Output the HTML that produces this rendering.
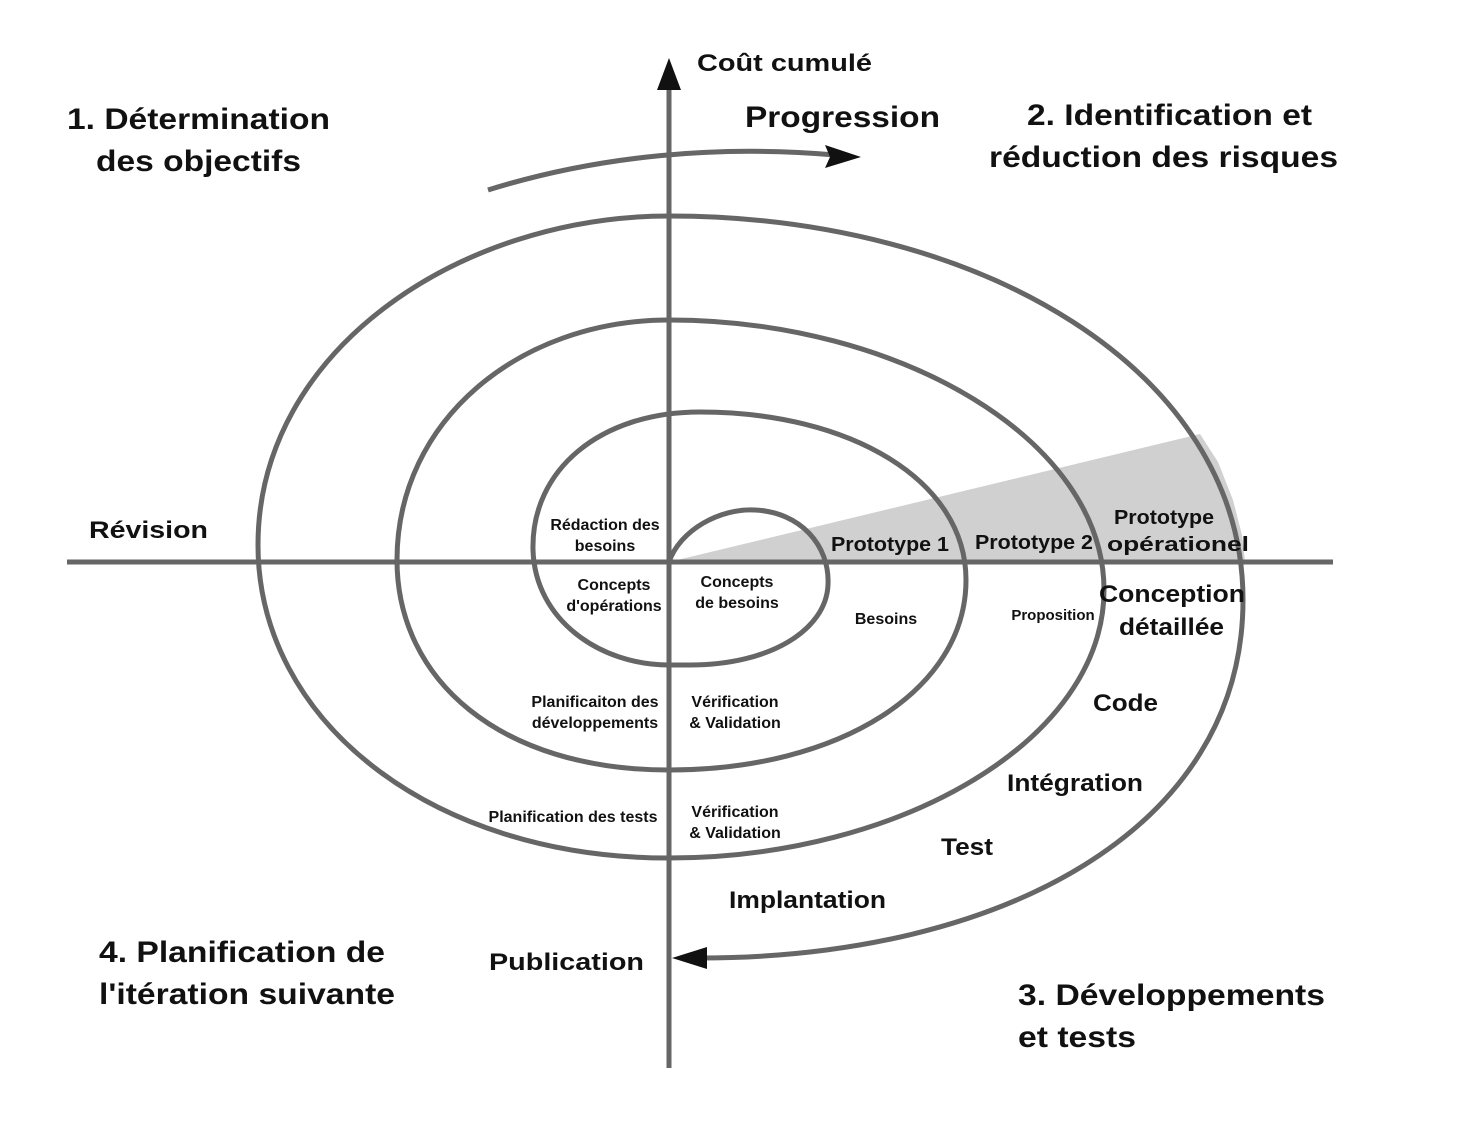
<!DOCTYPE html>
<html><head><meta charset="utf-8"><style>
html,body{margin:0;padding:0;background:#fff;}
svg{display:block;}
text{font-family:"Liberation Sans",sans-serif;font-weight:bold;fill:#111;}
.b{font-size:30px}.m{font-size:24px}.s{font-size:16px}
</style></head><body>
<svg width="1473" height="1133" viewBox="0 0 1473 1133">
<polygon points="669,562 1200,434 1218,462 1233,500 1242,535 1245,562" fill="#d0d0d0"/>
<g stroke="#666" stroke-width="5" fill="none">
<line x1="67" y1="562" x2="1333" y2="562"/>
<line x1="669" y1="1068" x2="669" y2="80"/>
<path d="M669,562 C680,530 720,508 755,510 C800,512 830,545 828,585 C826,630 770,665 690,665 L669,665
C600,665 535,620 533,550 C531,470 600,412 700,412
C850,412 966,480 966,580 C966,690 840,770 669,770
C500,770 397,680 397,560 C397,420 520,320 669,320
C900,320 1104,440 1104,590 C1104,740 900,858 669,858
C430,858 258,720 258,545 C258,350 460,216 669,216
C980,216 1243,370 1243,600 C1243,830 1000,958 700,958"/>
<path d="M488,190 C600,155 720,145 835,155"/>
</g>
<polygon points="669,58 657,90 681,90" fill="#111"/>
<polygon points="672,958 707,947 707,969" fill="#111"/>
<polygon points="861,157 825,145 830,157 825,168" fill="#111"/>
<g lengthAdjust="spacingAndGlyphs">
<text class="m" x="697" y="71" textLength="175" lengthAdjust="spacingAndGlyphs">Coût cumulé</text>
<text class="b" x="745" y="127" textLength="195" lengthAdjust="spacingAndGlyphs">Progression</text>
<text class="b" x="67" y="129" textLength="263" lengthAdjust="spacingAndGlyphs">1. Détermination</text>
<text class="b" x="96" y="171" textLength="205" lengthAdjust="spacingAndGlyphs">des objectifs</text>
<text class="b" x="1027" y="125" textLength="285" lengthAdjust="spacingAndGlyphs">2. Identification et</text>
<text class="b" x="989" y="167" textLength="349" lengthAdjust="spacingAndGlyphs">réduction des risques</text>
<text class="m" x="89" y="538" textLength="119" lengthAdjust="spacingAndGlyphs">Révision</text>
<text class="m" x="831" y="551" style="font-size:20px" textLength="118" lengthAdjust="spacingAndGlyphs">Prototype 1</text>
<text class="m" x="975" y="549" style="font-size:20px" textLength="118" lengthAdjust="spacingAndGlyphs">Prototype 2</text>
<text class="m" x="1114" y="524" style="font-size:20px" textLength="100" lengthAdjust="spacingAndGlyphs">Prototype</text>
<text class="m" x="1107" y="551" style="font-size:20px" textLength="142" lengthAdjust="spacingAndGlyphs">opérationel</text>
<text class="m" x="1099" y="602" textLength="146" lengthAdjust="spacingAndGlyphs">Conception</text>
<text class="m" x="1119" y="635" textLength="105" lengthAdjust="spacingAndGlyphs">détaillée</text>
<text class="m" x="1093" y="711" textLength="65" lengthAdjust="spacingAndGlyphs">Code</text>
<text class="m" x="1007" y="791" textLength="136" lengthAdjust="spacingAndGlyphs">Intégration</text>
<text class="m" x="941" y="855" textLength="52" lengthAdjust="spacingAndGlyphs">Test</text>
<text class="m" x="729" y="908" textLength="157" lengthAdjust="spacingAndGlyphs">Implantation</text>
<text class="m" x="489" y="970" textLength="155" lengthAdjust="spacingAndGlyphs">Publication</text>
<text class="b" x="99" y="962" textLength="286" lengthAdjust="spacingAndGlyphs">4. Planification de</text>
<text class="b" x="99" y="1004" textLength="296" lengthAdjust="spacingAndGlyphs">l'itération suivante</text>
<text class="b" x="1018" y="1005" textLength="307" lengthAdjust="spacingAndGlyphs">3. Développements</text>
<text class="b" x="1018" y="1047" textLength="118" lengthAdjust="spacingAndGlyphs">et tests</text>
</g>
<text class="s" x="605" y="530" text-anchor="middle">Rédaction des</text>
<text class="s" x="605" y="551" text-anchor="middle">besoins</text>
<text class="s" x="614" y="590" text-anchor="middle">Concepts</text>
<text class="s" x="614" y="611" text-anchor="middle">d'opérations</text>
<text class="s" x="737" y="587" text-anchor="middle">Concepts</text>
<text class="s" x="737" y="608" text-anchor="middle">de besoins</text>
<text class="s" x="886" y="624" text-anchor="middle">Besoins</text>
<text class="s" x="1053" y="620" text-anchor="middle" style="font-size:15px">Proposition</text>
<text class="s" x="595" y="707" text-anchor="middle">Planificaiton des</text>
<text class="s" x="595" y="728" text-anchor="middle">développements</text>
<text class="s" x="735" y="707" text-anchor="middle">Vérification</text>
<text class="s" x="735" y="728" text-anchor="middle">&amp; Validation</text>
<text class="s" x="573" y="822" text-anchor="middle">Planification des tests</text>
<text class="s" x="735" y="817" text-anchor="middle">Vérification</text>
<text class="s" x="735" y="838" text-anchor="middle">&amp; Validation</text>
</svg>
</body></html>
